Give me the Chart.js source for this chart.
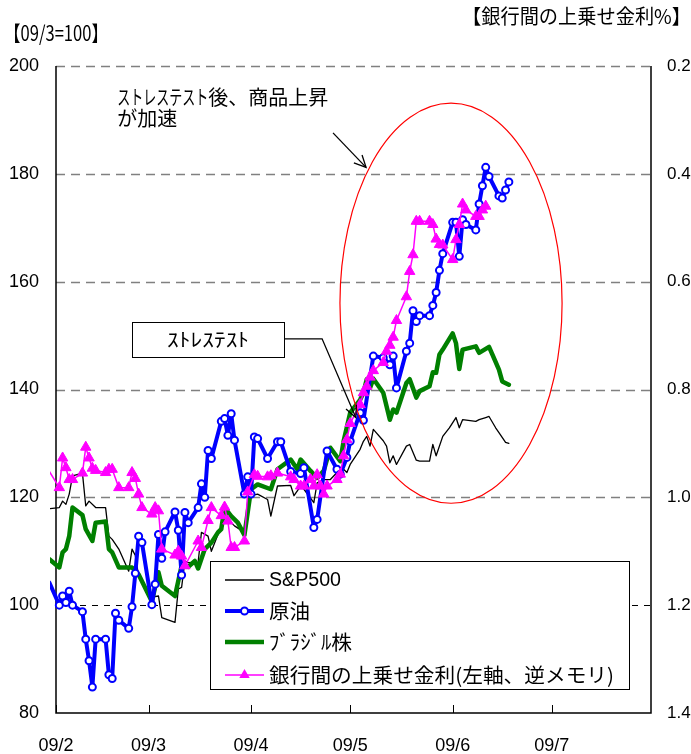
<!DOCTYPE html>
<html><head><meta charset="utf-8">
<script src="https://cdn.jsdelivr.net/npm/chart.js@4.4.1/dist/chart.umd.min.js"></script>
<style>html,body{margin:0;padding:0;background:#fff;overflow:hidden}canvas{display:block}</style>
</head><body>
<canvas id="c" width="691" height="754"></canvas>
<script>
// x values: days since 2009-02-01 (09/2 = 0)
const monthTickDays = [0, 28, 59, 89, 120, 150];
const monthTickLabels = ['09/2', '09/3', '09/4', '09/5', '09/6', '09/7'];
const leftTicks = [80, 100, 120, 140, 160, 180, 200];
const rightTicks = [0.2, 0.4, 0.6, 0.8, 1.0, 1.2, 1.4];

const seriesNames = ['S&P500', '原油', 'ﾌﾞﾗｼﾞﾙ株', '銀行間の上乗せ金利(左軸、逆メモリ)'];

// S&P500 (09/3 = 100)
const spDay = [-2,1,2,3,4,5,8,9,10,12,15,16,17,19,22,23,24,25,26,29,31,32,36,37,38,39,40,43,44,46,47,50,51,52,54,57,59,61,64,65,67,71,72,74,75,78,79,81,83,85,87,88,89,92,93,94,95,96,99,100,101,102,103,106,107,109,110,113,114,115,117,119,121,122,123,127,128,130,131,133,134,136,137];
const spValue = [117.9,118.1,119.3,118.7,120.6,124.0,124.5,118.4,119.3,118.1,118.1,112.8,112.2,110.4,106.3,110.4,109.2,105.4,104.5,101.5,101.7,97.7,96.8,103.0,103.3,108.2,107.9,108.0,113.5,112.8,110.0,114.7,118.7,115.9,114.7,113.5,120.3,120.6,119.6,116.5,122.1,122.2,120.3,122.1,121.5,119.0,122.7,123.3,123.3,124.6,125.2,124.6,126.1,128.9,130.4,131.3,129.5,132.6,130.5,129.5,126.4,127.7,126.1,129.5,129.8,126.9,126.7,126.7,129.8,127.7,131.3,132.9,134.8,132.9,134.4,134.1,134.4,134.8,135.0,132.9,132.0,130.2,130.0];

// 原油 (09/3 = 100)
const oilDay = [-2,1,2,3,4,5,8,9,10,11,12,15,16,17,18,19,22,23,24,25,26,29,30,31,32,33,36,37,38,39,40,43,44,45,46,47,50,51,52,53,54,57,58,59,60,61,64,67,68,71,74,75,78,79,82,85,86,88,89,92,93,96,99,101,102,103,106,107,108,109,110,113,114,115,116,117,120,121,122,123,124,127,128,129,130,131,134,135,136,137];
const oilValue = [104.2,100.0,101.7,100.5,102.6,100.0,98.8,93.7,89.7,84.8,93.7,93.7,87.1,86.4,98.5,97.2,95.7,99.7,105.9,112.8,111.6,100.1,103.9,113.1,108.7,113.6,117.3,113.9,105.6,117.2,115.3,118.1,122.5,120.0,128.7,127.2,134.1,134.6,131.5,135.5,130.6,120.6,123.8,120.6,131.2,130.9,127.2,130.3,130.3,124.8,124.4,125.5,114.4,115.9,128.6,125.2,124.3,127.4,130.4,135.7,134.3,146.2,145.9,144.6,146.2,140.3,147.1,148.6,154.6,152.6,153.7,153.7,155.6,158.0,162.1,165.2,171.0,171.0,164.7,171.5,170.6,169.6,174.4,177.8,181.2,179.5,175.9,175.5,177.0,178.5];

// ブラジル株 (09/3 = 100)
const brDay = [-2,1,2,3,4,5,8,9,11,12,15,16,17,19,23,25,29,31,32,36,38,40,42,43,45,47,49,50,51,53,55,57,59,61,65,67,71,73,74,77,79,81,83,86,87,89,92,93,94,95,96,99,101,102,103,106,107,109,110,113,114,115,116,117,120,121,122,123,127,128,131,132,134,135,137];
const brValue = [108.5,107.0,109.8,110.4,112.8,118.1,116.7,114.1,111.9,115.3,115.5,110.4,109.8,107.0,107.0,105.7,100.7,106.1,103.6,101.7,107.3,107.1,108.2,106.8,110.4,111.6,113.5,114.1,118.1,116.5,115.3,113.0,121.5,122.4,121.5,125.2,127.0,125.2,127.0,124.9,123.6,124.9,129.2,126.7,130.4,135.7,138.1,139.4,141.9,140.3,142.0,139.4,134.4,136.3,135.7,141.2,141.9,138.5,139.7,140.6,143.2,143.1,146.5,147.4,150.4,148.6,143.8,147.4,148.0,146.8,147.9,146.5,143.7,141.5,140.9];

// 銀行間の上乗せ金利 (%), right axis, reversed
const spreadDay = [-2,1,2,3,4,5,8,9,10,11,12,15,16,17,19,22,23,24,25,26,29,30,31,32,36,37,38,39,43,44,46,47,50,51,52,53,54,57,58,60,61,64,65,67,71,72,74,75,77,78,79,80,81,82,85,86,87,88,89,92,93,94,95,96,99,100,101,102,103,106,107,108,109,110,113,114,115,116,117,120,121,122,123,124,127,128,129,130];
const spreadValue = [0.952,0.982,0.927,0.945,0.967,0.967,0.955,0.907,0.927,0.946,0.950,0.954,0.948,0.948,0.982,0.982,0.954,0.965,0.994,1.019,1.031,1.019,1.025,1.096,1.107,1.100,1.109,1.127,1.081,1.093,1.043,1.019,1.034,1.018,1.044,1.093,1.093,1.081,0.990,0.958,0.961,0.962,0.960,0.955,0.962,0.967,0.979,0.979,0.967,0.979,0.958,0.979,0.994,0.979,0.967,0.957,0.923,0.893,0.863,0.828,0.806,0.794,0.777,0.765,0.750,0.729,0.718,0.703,0.672,0.628,0.581,0.550,0.488,0.488,0.488,0.494,0.521,0.531,0.532,0.559,0.522,0.494,0.456,0.467,0.479,0.479,0.467,0.460];

const JP = "'Noto Sans CJK JP', 'Noto Sans', sans-serif";
const NUM = "'Liberation Sans', Arial, sans-serif";
const pts = (d, v) => d.map((x, i) => ({x: x, y: v[i]}));
const clipArea = {left: 6, right: 4, top: 4, bottom: 4};
const hideBefore = c => (c.raw && c.raw.x < 0) ? 0 : undefined;

function fitText(ctx, text, x, y, width, font, center) {
  ctx.save();
  ctx.font = font;
  const w = ctx.measureText(text).width;
  ctx.translate(x, y);
  ctx.scale(width / w, 1);
  ctx.textAlign = 'left';
  ctx.textBaseline = 'middle';
  ctx.fillStyle = '#000';
  ctx.fillText(text, center ? -w / 2 : 0, 0);
  ctx.restore();
}
function arrow(ctx, p, head) {
  ctx.beginPath();
  ctx.moveTo(p[0][0], p[0][1]);
  for (let i = 1; i < p.length; i++) ctx.lineTo(p[i][0], p[i][1]);
  ctx.stroke();
  const [x2, y2] = p[p.length - 1], [x1, y1] = p[p.length - 2];
  const a = Math.atan2(y2 - y1, x2 - x1);
  ctx.beginPath();
  ctx.moveTo(x2 - head * Math.cos(a - 0.45), y2 - head * Math.sin(a - 0.45));
  ctx.lineTo(x2, y2);
  ctx.lineTo(x2 - head * Math.cos(a + 0.45), y2 - head * Math.sin(a + 0.45));
  ctx.stroke();
}

const framePlugin = {
  id: 'frame',
  beforeDatasetsDraw(chart) {
    const {ctx, chartArea: a, scales} = chart;
    ctx.save();
    leftTicks.forEach(v => {
      if (v === 80) return;
      const y = Math.round(scales.y.getPixelForValue(v)) + 0.5;
      ctx.beginPath();
      if (v === 100) { ctx.setLineDash([6, 6]); ctx.strokeStyle = '#000'; ctx.lineWidth = 1; }
      else { ctx.setLineDash([9, 6]); ctx.strokeStyle = '#808080'; ctx.lineWidth = 1.5; }
      ctx.moveTo(a.left, y); ctx.lineTo(a.right, y); ctx.stroke();
    });
    ctx.setLineDash([]);
    ctx.strokeStyle = '#000'; ctx.lineWidth = 1.5;
    ctx.beginPath();
    ctx.moveTo(a.left, a.top); ctx.lineTo(a.left, a.bottom); ctx.lineTo(a.right, a.bottom); ctx.lineTo(a.right, a.top);
    ctx.stroke();
    ctx.lineWidth = 1;
    monthTickDays.forEach(d => {
      const x = Math.round(scales.x.getPixelForValue(d)) + 0.5;
      ctx.beginPath(); ctx.moveTo(x, a.bottom); ctx.lineTo(x, a.bottom - 8); ctx.stroke();
    });
    ctx.restore();
  }
};

const notePlugin = {
  id: 'notes',
  afterDatasetsDraw(chart) {
    const {ctx, scales} = chart;
    const X = d => scales.x.getPixelForValue(d), Y = v => scales.y.getPixelForValue(v);
    ctx.save();
    // red ellipse
    ctx.strokeStyle = '#FF0000'; ctx.lineWidth = 1.2;
    ctx.beginPath();
    const cx = X(119.5), cy = Y(156), rx = X(119.5 + 33.6) - cx, ry = Y(156 - 37.1) - cy;
    ctx.ellipse(cx, cy, rx, ry, 0, 0, Math.PI * 2);
    ctx.stroke();
    // annotation text
    fitText(ctx, 'ストレステスト', X(18.5), Y(194.2), 91, '20px ' + JP, false);
    fitText(ctx, '後、商品上昇', X(18.5) + 91, Y(194.2), 120, '20px ' + JP, false);
    fitText(ctx, 'が加速', X(18.5), Y(190.3), 60, '20px ' + JP, false);
    ctx.strokeStyle = '#000'; ctx.lineWidth = 1.3;
    arrow(ctx, [[X(83.8), Y(187.6)], [X(93.8), Y(181.2)]], 13);
    // stress test box
    const bx1 = X(23), bx2 = X(69), by1 = Y(152.5), by2 = Y(146);
    ctx.fillStyle = '#fff';
    ctx.fillRect(bx1, by1, bx2 - bx1, by2 - by1);
    ctx.lineWidth = 1;
    ctx.strokeRect(Math.round(bx1) + 0.5, Math.round(by1) + 0.5, Math.round(bx2 - bx1), Math.round(by2 - by1));
    fitText(ctx, 'ｽﾄﾚｽﾃｽﾄ', (bx1 + bx2) / 2, (by1 + by2) / 2, 82, '19px ' + JP, true);
    ctx.lineWidth = 1.3;
    arrow(ctx, [[bx2, Y(149.4)], [X(80.5), Y(149.4)], [X(90.7), Y(134.8)]], 13);
    // legend
    const lx = 210, ly = 561, lw = 419, lh = 128;
    ctx.fillStyle = '#fff'; ctx.fillRect(lx, ly, lw, lh);
    ctx.strokeStyle = '#000'; ctx.lineWidth = 1;
    ctx.strokeRect(lx + 0.5, ly + 0.5, lw, lh);
    const rows = [580, 611, 642, 675];
    const widths = [72, 41, 83, 345];
    const fonts = ['20px ' + NUM, '20px ' + JP, '20px ' + JP, '20px ' + JP];
    ctx.strokeStyle = '#000'; ctx.lineWidth = 1.3;
    ctx.beginPath(); ctx.moveTo(225, rows[0]); ctx.lineTo(264, rows[0]); ctx.stroke();
    ctx.strokeStyle = '#0000FF'; ctx.lineWidth = 4;
    ctx.beginPath(); ctx.moveTo(225, rows[1]); ctx.lineTo(264, rows[1]); ctx.stroke();
    ctx.fillStyle = '#fff'; ctx.lineWidth = 2;
    ctx.beginPath(); ctx.arc(244.5, rows[1], 3.5, 0, Math.PI * 2); ctx.fill(); ctx.stroke();
    ctx.strokeStyle = '#008000'; ctx.lineWidth = 4.5;
    ctx.beginPath(); ctx.moveTo(225, rows[2]); ctx.lineTo(264, rows[2]); ctx.stroke();
    ctx.strokeStyle = '#FF00FF'; ctx.lineWidth = 1.5;
    ctx.beginPath(); ctx.moveTo(225, rows[3]); ctx.lineTo(264, rows[3]); ctx.stroke();
    ctx.fillStyle = '#FF00FF';
    ctx.beginPath(); ctx.moveTo(244.5, rows[3] - 6); ctx.lineTo(249.7, rows[3] + 3); ctx.lineTo(239.3, rows[3] + 3); ctx.closePath(); ctx.fill();
    seriesNames.forEach((n, i) => fitText(ctx, n, 269, rows[i], widths[i], fonts[i], false));
    // axis titles
    fitText(ctx, '【09/3=100】', 4, 33, 104, '21px ' + JP, false);
    fitText(ctx, '【銀行間の上乗せ金利%】', 462, 16, 229, '20px ' + JP, false);
    ctx.restore();
  }
};

new Chart(document.getElementById('c').getContext('2d'), {
  type: 'line',
  data: {
    datasets: [
      {label: seriesNames[3], data: pts(spreadDay, spreadValue), yAxisID: 'yR', borderColor: '#FF00FF', backgroundColor: '#FF00FF',
       borderWidth: 1.5, pointStyle: 'triangle', pointRadius: c => hideBefore(c) ?? 6, pointBorderWidth: 1,
       pointBorderColor: '#FF00FF', pointBackgroundColor: '#FF00FF', order: 0, clip: clipArea},
      {label: seriesNames[1], data: pts(oilDay, oilValue), yAxisID: 'y', borderColor: '#0000FF', backgroundColor: '#fff',
       borderWidth: 4, pointStyle: 'circle', pointRadius: c => hideBefore(c) ?? 3.5, pointBorderWidth: 2,
       pointBorderColor: '#0000FF', pointBackgroundColor: '#fff', order: 1, clip: clipArea},
      {label: seriesNames[2], data: pts(brDay, brValue), yAxisID: 'y', borderColor: '#008000',
       borderWidth: 4.5, pointRadius: 0, order: 2, clip: clipArea},
      {label: seriesNames[0], data: pts(spDay, spValue), yAxisID: 'y', borderColor: '#000000',
       borderWidth: 1.3, pointRadius: 0, order: 3, clip: clipArea}
    ]
  },
  options: {
    responsive: false, animation: false, devicePixelRatio: 1,
    layout: {padding: {top: 66, left: 0, right: 0, bottom: 0}},
    plugins: {legend: {display: false}, tooltip: {enabled: false}},
    elements: {line: {tension: 0, borderJoinStyle: 'round', borderCapStyle: 'round'}},
    scales: {
      x: {type: 'linear', min: 0, max: 180, grid: {display: false, drawTicks: false}, border: {display: false},
          afterBuildTicks: s => { s.ticks = monthTickDays.map(v => ({value: v})); },
          ticks: {callback: v => monthTickLabels[monthTickDays.indexOf(v)], font: {family: NUM, size: 18}, color: '#000', padding: 22, maxRotation: 0, autoSkip: false},
          afterFit: s => { s.height = 41; }},
      y: {position: 'left', min: 80, max: 200, grid: {display: false, drawTicks: false}, border: {display: false},
          afterBuildTicks: s => { s.ticks = leftTicks.map(v => ({value: v})); },
          ticks: {font: {family: NUM, size: 18}, color: '#000', padding: 17},
          afterFit: s => { s.width = 56; }},
      yR: {position: 'right', min: 0.2, max: 1.4, reverse: true, grid: {display: false, drawTicks: false}, border: {display: false},
          afterBuildTicks: s => { s.ticks = rightTicks.map(v => ({value: v})); },
          ticks: {callback: v => Number(v).toFixed(1), font: {family: NUM, size: 17}, color: '#000', padding: 16},
          afterFit: s => { s.width = 40; }}
    }
  },
  plugins: [framePlugin, notePlugin]
});
</script>
</body></html>
